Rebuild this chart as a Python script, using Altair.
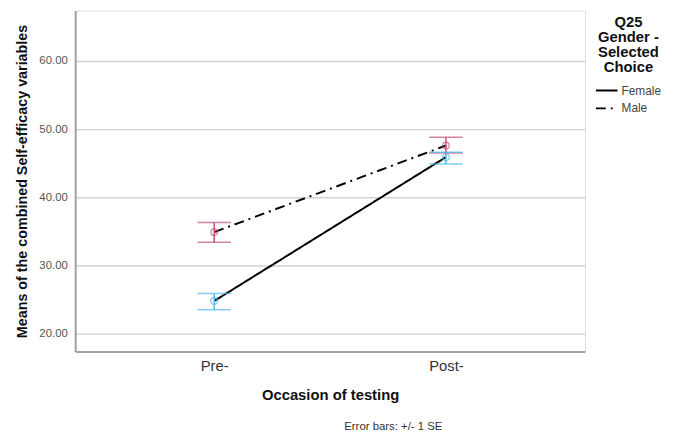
import altair as alt
import pandas as pd

occasions = ["Pre-", "Post-", "Pre-", "Post-"]
genders = ["Female", "Female", "Male", "Male"]
means = [24.8, 45.9, 34.9, 47.6]
lower = [23.5, 44.9, 33.4, 46.5]
upper = [25.9, 46.6, 36.3, 48.8]
female_color = "#4db8f0"
male_color = "#c0507c"

df = pd.DataFrame({"occ": occasions, "gender": genders, "mean": means, "lo": lower, "hi": upper})

xs = alt.Scale(type="point", domain=["Pre-", "Post-"], padding=0.6)
ys = alt.Scale(domain=[17.4, 67.4], nice=False, zero=False)

x = alt.X("occ:N", scale=xs, sort=["Pre-", "Post-"],
          axis=alt.Axis(title="Occasion of testing", labelAngle=0, ticks=False, grid=False,
                        labelFontSize=15, labelColor="#333333", labelPadding=7,
                        titleFontSize=15, titleFontWeight="bold", titleColor="#111111",
                        titlePadding=15, domainColor="#8a8a8a", domainWidth=1.5,
                        labelFont="Liberation Sans", titleFont="Liberation Sans"))
y = alt.Y("mean:Q", scale=ys,
          axis=alt.Axis(title="Means of the combined Self-efficacy variables", values=[20, 30, 40, 50, 60],
                        format=".2f", ticks=False, grid=True, gridColor="#d2d2d2", gridWidth=1.5,
                        labelFontSize=11.5, labelColor="#555555", labelPadding=8,
                        titleFontSize=14.5, titleFontWeight="bold", titleColor="#111111",
                        titlePadding=9, domainColor="#a0a0a0", domainWidth=2,
                        labelFont="Liberation Sans", titleFont="Liberation Sans"))

base = alt.Chart(df)

lines = base.mark_line(color="black", strokeWidth=2).encode(
    x=x, y=y,
    strokeDash=alt.StrokeDash("gender:N",
                              scale=alt.Scale(domain=["Female", "Male"], range=[[1, 0], [10, 5, 2, 5]]),
                              legend=alt.Legend(title=["Q25", "Gender -", "Selected", "Choice"],
                                                orient="none", legendX=526, legendY=5,
                                                titleFontSize=15, titleFontWeight="bold",
                                                titleColor="#111111", titleAlign="center",
                                                titleAnchor="middle", titleLineHeight=15,
                                                titleFont="Liberation Sans", titlePadding=4,
                                                labelFont="Liberation Sans", labelFontSize=12,
                                                labelColor="#444444", symbolType="stroke",
                                                symbolStrokeWidth=2, symbolSize=480,
                                                symbolStrokeColor="black", labelOffset=3,
                                                rowPadding=-7)),
)

col = alt.condition(alt.datum.gender == "Male", alt.value(male_color), alt.value(female_color))
xp = alt.X("occ:N", scale=xs, sort=["Pre-", "Post-"])

rules = base.mark_rule(strokeWidth=1.5).encode(
    x=xp, y=alt.Y("lo:Q", scale=ys), y2="hi:Q", color=col,
)
caps_lo = base.mark_tick(size=34, thickness=1.5).encode(
    x=xp, y=alt.Y("lo:Q", scale=ys), color=col,
)
caps_hi = base.mark_tick(size=34, thickness=1.5).encode(
    x=xp, y=alt.Y("hi:Q", scale=ys), color=col,
)
points = base.mark_point(filled=False, size=45, strokeWidth=1.3).encode(
    x=xp, y=alt.Y("mean:Q", scale=ys), color=col,
)

chart = alt.layer(lines, rules, caps_lo, caps_hi, points).properties(
    width=516, height=345,
    autosize=alt.AutoSizeParams(type="none"),
    padding={"left": 68, "top": 0, "right": 82, "bottom": 82},
    title=alt.TitleParams("Error bars: +/- 1 SE", orient="bottom", anchor="middle", dx=64,
                          fontSize=11.5, fontWeight="normal", color="#333333", offset=19,
                          font="Liberation Sans"),
).configure_view(stroke=None).configure(background="white")

chart.save("out.html", embed_options={"renderer": "svg", "actions": False})
